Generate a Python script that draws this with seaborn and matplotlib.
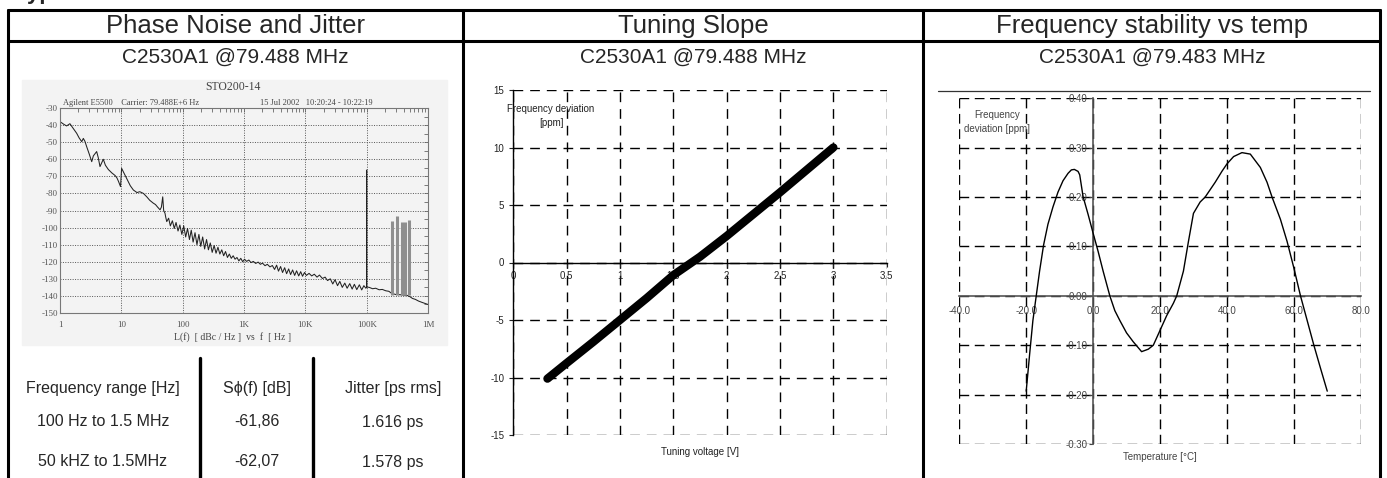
"""Oscillator datasheet panel: phase noise, tuning slope, frequency vs temperature."""

import matplotlib

matplotlib.use("Agg")
import matplotlib.pyplot as plt
import numpy as np
import pandas as pd
import seaborn as sns
from matplotlib.lines import Line2D
from matplotlib.patches import Rectangle
from matplotlib.ticker import FixedFormatter, FixedLocator, LogLocator, MultipleLocator, NullFormatter

# ---------------------------------------------------------------- data
panel_titles = ["Phase Noise and Jitter", "Tuning Slope", "Frequency stability vs temp"]
panel_subtitles = ["C2530A1 @79.488 MHz", "C2530A1 @79.488 MHz", "C2530A1 @79.483 MHz"]

# phase noise trace, L(f) in dBc/Hz
pn_freq_hz = [
    1.0, 1.15, 1.28, 1.45, 1.65, 1.87, 2.05, 2.26, 2.4, 2.55, 2.72, 3.0, 3.29,
    3.5, 3.96, 4.2, 4.49, 4.8, 5.08, 5.5, 6.14, 7.0, 7.9, 8.5, 9.0, 9.7,
    10.1, 11, 12.5, 14, 15.7, 18, 20, 22.9, 26, 29, 33.2, 36, 39, 42.8, 45, 47.3, 49, 51.5, 53,
    55, 59, 63, 68, 73, 78, 84, 90, 97, 104, 112, 120, 129, 138,
    148, 159, 171, 184, 197, 212, 228, 245, 263, 282, 303, 326, 350, 376,
    404, 434, 466, 500, 537, 577, 620, 666, 715, 768, 825, 886, 952, 1020,
    1100, 1200, 1300, 1420, 1550, 1700, 1850, 2000, 2200, 2400, 2650, 2900,
    3150, 3400, 3650, 3950, 4250, 4600, 4950, 5350, 5750, 6200, 6700, 7200, 7800, 8400, 9000, 9700, 10400,
    11500, 12700, 14000, 15500, 17000, 19000, 21000, 23000, 25500,
    28000, 30500, 33500, 36500, 40000, 44000, 48000, 53000, 58000, 63000, 69000, 76000, 83000, 90000, 97000,
    99500, 100000, 100500,
    110e3, 125e3, 140e3, 160e3, 180e3, 205e3, 230e3, 255e3, 300e3, 350e3, 400e3, 450e3,
    500e3, 560e3, 620e3, 700e3, 800e3, 900e3, 1e6,
]
pn_level_dbc = [
    -38.0, -39.5, -40.5, -39.2, -42.0, -44.8, -47.5, -49.7, -47.8, -49.5, -52.6, -57.0, -61.4,
    -58.0, -55.5, -59.0, -64.3, -62.0, -60.0, -63.5, -66.0, -68.0, -69.5, -71.0, -73.0, -76.0,
    -65.3, -68.0, -72.0, -75.5, -78.0, -79.5, -79.0, -80.0, -82.0, -84.0, -85.7, -86.5, -88.0, -89.6, -88.0, -82.0, -90.0, -91.6, -94.0,
    -96.5, -94.5, -99.0, -96.0, -100.5, -97.0, -102.0, -98.5, -104.0, -99.0, -105.5, -100.5, -107.0, -101.5,
    -108.5, -103.0, -110.0, -104.0, -111.0, -105.5, -112.5, -107.0, -113.0, -109.0, -114.5, -110.5, -115.0, -111.5,
    -115.5, -113.0, -116.5, -114.0, -117.5, -115.5, -118.0, -116.5, -118.5, -117.5, -119.5, -118.0, -120.0, -118.5,
    -119.8, -119.0, -120.5, -119.8, -121.0, -120.2, -121.5, -120.8, -122.3, -121.5, -123.0, -122.2,
    -124.5, -122.0, -125.5, -122.8, -126.3, -123.5, -127.0, -124.2, -127.5, -124.8, -128.0, -125.3, -128.3, -125.8, -128.5, -126.3, -128.0,
    -126.8, -128.3, -127.3, -129.0, -127.8, -129.8, -129.0, -131.0, -130.0,
    -133.0, -130.5, -134.0, -131.5, -135.0, -132.5, -135.5, -132.8, -136.0, -133.2, -136.3, -133.5, -136.5, -134.0, -135.5,
    -135.0, -66.3, -134.8,
    -135.0, -135.8, -135.5, -136.4, -136.2, -137.0, -137.3, -138.5, -139.2, -139.3, -139.5, -139.6,
    -140.3, -141.5, -142.0, -143.0, -143.8, -144.4, -145.0,
]
spur_freq_hz = [258e3, 311e3, 375e3, 425e3, 481e3]
spur_level_dbc = [-96.4, -93.5, -96.5, -97.0, -95.5]
spur_floor_dbc = -139.5

pn_xticks = [1, 10, 100, 1e3, 1e4, 1e5, 1e6]
pn_xticklabels = ["1", "10", "100", "1K", "10K", "100K", "1M"]
pn_yticks = [-30, -40, -50, -60, -70, -80, -90, -100, -110, -120, -130, -140, -150]

jitter_header = ["Frequency range [Hz]", "S\u03d5(f) [dB]", "Jitter [ps rms]"]
jitter_range = ["100 Hz to 1.5 MHz", "50 kHZ to 1.5MHz"]
jitter_sphi = ["-61,86", "-62,07"]
jitter_ps = ["1.616 ps", "1.578 ps"]

# tuning slope
tune_voltage = [0.32, 0.5, 0.75, 1.0, 1.25, 1.5, 1.75, 2.0, 2.25, 2.5, 2.75, 3.0]
tune_ppm = [-10.1, -8.75, -6.9, -5.0, -3.1, -1.1, 0.5, 2.3, 4.2, 6.1, 8.05, 10.0]
tune_xticks = [0, 0.5, 1, 1.5, 2, 2.5, 3, 3.5]
tune_xticklabels = ["0", "0.5", "1", "1.5", "2", "2.5", "3", "3.5"]
tune_yticks = [-15, -10, -5, 0, 5, 10, 15]

# frequency vs temperature
temp_c = [
    -20, -19, -18, -17, -16, -14.8, -13.5, -12, -10.5, -9, -7.5, -6.5, -5.6, -4.5, -4, -3,
    -1.5, 0, 1.5, 3, 5, 6.5, 8, 10, 12, 14.5, 16.5, 18, 20, 22, 24, 25, 27, 28.5, 30,
    32, 33.5, 36.5, 38.5, 40, 42, 44.5, 47, 50, 52, 53.5, 56, 58, 60, 62, 64, 66, 68, 70,
]
temp_ppm = [
    -0.193, -0.12, -0.05, 0.0, 0.05, 0.103, 0.145, 0.18, 0.21, 0.233, 0.248, 0.255, 0.256, 0.252, 0.245, 0.201,
    0.165, 0.127, 0.09, 0.05, 0.0, -0.03, -0.05, -0.075, -0.093, -0.113, -0.108, -0.10, -0.07, -0.04, -0.015, 0.0, 0.05, 0.11, 0.167,
    0.19, 0.20, 0.23, 0.252, 0.267, 0.282, 0.29, 0.287, 0.26, 0.23, 0.20, 0.155, 0.11, 0.057, 0.0, -0.05, -0.10, -0.147, -0.193,
]
temp_xticks = [-40, -20, 0, 20, 40, 60, 80]
temp_yticks = [-0.3, -0.2, -0.1, 0.0, 0.1, 0.2, 0.3, 0.4]

# ---------------------------------------------------------------- layout helpers
W, H = 1387, 478
sns.set_theme(style="white")
plt.rcParams["font.family"] = ["Liberation Sans", "DejaVu Sans"]
plt.rcParams["axes.unicode_minus"] = False

fig = plt.figure(figsize=(W / 100, H / 100), dpi=100)
fig.patch.set_facecolor("white")


def fx(x):
    return x / W


def fy(y):
    return 1 - y / H


def px_axes(x0, y0, x1, y1):
    return fig.add_axes([x0 / W, 1 - y1 / H, (x1 - x0) / W, (y1 - y0) / H])


def fline(x0, y0, x1, y1, **kw):
    kw.setdefault("color", "black")
    kw.setdefault("lw", 2.2)
    fig.add_artist(Line2D([fx(x0), fx(x1)], [fy(y0), fy(y1)], transform=fig.transFigure, **kw))


def ftext(x, y, s, **kw):
    kw.setdefault("ha", "center")
    kw.setdefault("va", "center")
    fig.text(fx(x), fy(y), s, **kw)


# ---------------------------------------------------------------- table frame
# heading sits above the crop, only the bottom of its letters shows
ftext(16, -1.5, "Typical", ha="left", va="baseline", fontsize=16, fontweight="bold")
fline(8, 10, 1380, 10)
fline(8, 41, 1380, 41)
for xv in [8, 463, 923, 1380]:
    fline(xv, 10, xv, 480)
for xc, title in zip([235, 693, 1152], panel_titles):
    ftext(xc, 26, title, fontsize=18.5)
for xc, sub in zip([235, 693, 1152], panel_subtitles):
    ftext(xc, 57, sub, fontsize=15)

# ---------------------------------------------------------------- phase noise
fig.add_artist(Rectangle((fx(22), fy(345)), fx(447) - fx(22), fy(80) - fy(345),
                         transform=fig.transFigure, color="#f3f3f3", zorder=0))
ax1 = px_axes(60, 108, 428, 313)
ax1.set_facecolor("none")
pn = pd.DataFrame({"f": pn_freq_hz, "L": pn_level_dbc})
sns.lineplot(data=pn, x="f", y="L", ax=ax1, sort=False, estimator=None, color="#222222", lw=0.75)
ax1.vlines(spur_freq_hz, spur_floor_dbc, spur_level_dbc, color="#8f8f8f", lw=2.2)
ax1.set_xscale("log")
ax1.set_xlim(1, 1e6)
ax1.set_ylim(-150, -30)
ax1.xaxis.set_major_locator(FixedLocator(pn_xticks))
ax1.xaxis.set_major_formatter(FixedFormatter(pn_xticklabels))
ax1.xaxis.set_minor_locator(LogLocator(base=10, subs=np.arange(2, 10)))
ax1.xaxis.set_minor_formatter(NullFormatter())
ax1.yaxis.set_major_locator(FixedLocator(pn_yticks))
ax1.yaxis.set_minor_locator(MultipleLocator(5))
ax1.grid(True, which="major", color="#555555", lw=0.7, ls=(0, (1, 1.5)))
ax1.tick_params(which="both", direction="in", top=True, right=True, colors="#666666",
                labelcolor="#555555", labelsize=6.5, length=3, width=0.6,
                labelfontfamily="Liberation Serif")
ax1.tick_params(axis="x", pad=6)
ax1.tick_params(axis="y", pad=1.5)
ax1.set_xlabel("")
ax1.set_ylabel("")
for sp in ax1.spines.values():
    sp.set_color("#777777")
    sp.set_linewidth(0.8)
serif = dict(family="Liberation Serif", color="#444444")
ftext(233, 87, "STO200-14", fontsize=8.5, **serif)
ftext(63, 103, "Agilent E5500    Carrier: 79.488E+6 Hz", ha="left", fontsize=6, **serif)
ftext(373, 103, "15 Jul 2002   10:20:24 - 10:22:19", ha="right", fontsize=6, **serif)
ftext(233, 337, "L(f)  [ dBc / Hz ]  vs  f  [ Hz ]", fontsize=7, **serif)

# jitter table
fline(200, 358, 200, 480, lw=2.4)
fline(313, 358, 313, 480, lw=2.4)
for xc, txt in zip([103, 257, 393], jitter_header):
    ftext(xc, 388, txt, fontsize=11.5)
for yc, rng, sp_, jt in zip([422, 462], jitter_range, jitter_sphi, jitter_ps):
    ftext(103, yc, rng, fontsize=11.5)
    ftext(257, yc, sp_, fontsize=11.5)
    ftext(393, yc, jt, fontsize=11.5)

# ---------------------------------------------------------------- tuning slope
ax2 = px_axes(513.3, 90, 886.7, 435)
tune = pd.DataFrame({"V": tune_voltage, "ppm": tune_ppm})
sns.lineplot(data=tune, x="V", y="ppm", ax=ax2, color="black", lw=6,
             solid_capstyle="round", solid_joinstyle="round", zorder=4)
ax2.set_xlim(0, 3.5)
ax2.set_ylim(-15, 15)
ax2.xaxis.set_major_locator(FixedLocator(tune_xticks))
ax2.xaxis.set_major_formatter(FixedFormatter(tune_xticklabels))
ax2.yaxis.set_major_locator(FixedLocator(tune_yticks))
ax2.grid(True, color="black", lw=1.0, ls=(0, (7, 5)))
ax2.spines[["top", "right"]].set_visible(False)
ax2.spines["bottom"].set_position(("data", 0))
for sp in ["left", "bottom"]:
    ax2.spines[sp].set_color("black")
    ax2.spines[sp].set_linewidth(1.0)
ax2.tick_params(direction="out", length=3, width=0.8, labelsize=7, colors="#222222",
                bottom=True, left=True)
ax2.tick_params(axis="x", pad=3)
ax2.set_xlabel("")
ax2.set_ylabel("")
ftext(551, 116, "Frequency deviation\n[ppm]", fontsize=7, linespacing=1.45, color="#222222")
ftext(700, 452, "Tuning voltage [V]", fontsize=7, color="#222222")

# ---------------------------------------------------------------- frequency vs temperature
fline(938, 91, 1370, 91, lw=0.9, color="#333333")
ax3 = px_axes(959.3, 98.3, 1360.7, 444)
temp = pd.DataFrame({"T": temp_c, "ppm": temp_ppm})
sns.lineplot(data=temp, x="T", y="ppm", ax=ax3, color="black", lw=1.0, zorder=4)
ax3.set_xlim(-40, 80)
ax3.set_ylim(-0.3, 0.4)
ax3.xaxis.set_major_locator(FixedLocator(temp_xticks))
ax3.xaxis.set_major_formatter(FixedFormatter([f"{v:.1f}" for v in temp_xticks]))
ax3.yaxis.set_major_locator(FixedLocator(temp_yticks))
ax3.yaxis.set_major_formatter(FixedFormatter([f"{v:.2f}" for v in temp_yticks]))
ax3.grid(True, color="black", lw=1.0, ls=(0, (7, 4)))
ax3.spines[["top", "right"]].set_visible(False)
ax3.spines["left"].set_position(("data", 0))
ax3.spines["bottom"].set_position(("data", 0))
for sp in ["left", "bottom"]:
    ax3.spines[sp].set_color("#555555")
    ax3.spines[sp].set_linewidth(1.2)
ax3.tick_params(direction="out", length=3, width=0.8, labelsize=7, colors="#444444",
                bottom=False, left=True)
ax3.tick_params(axis="x", pad=4)
ax3.tick_params(axis="y", pad=1)
ax3.set_xlabel("")
ax3.set_ylabel("")
ftext(997, 122, "Frequency\ndeviation [ppm]", fontsize=7, linespacing=1.5, color="#444444")
ftext(1160, 457, "Temperature [\u00b0C]", fontsize=7, color="#444444")

fig.savefig("out.png", dpi=100)
plt.close(fig)
